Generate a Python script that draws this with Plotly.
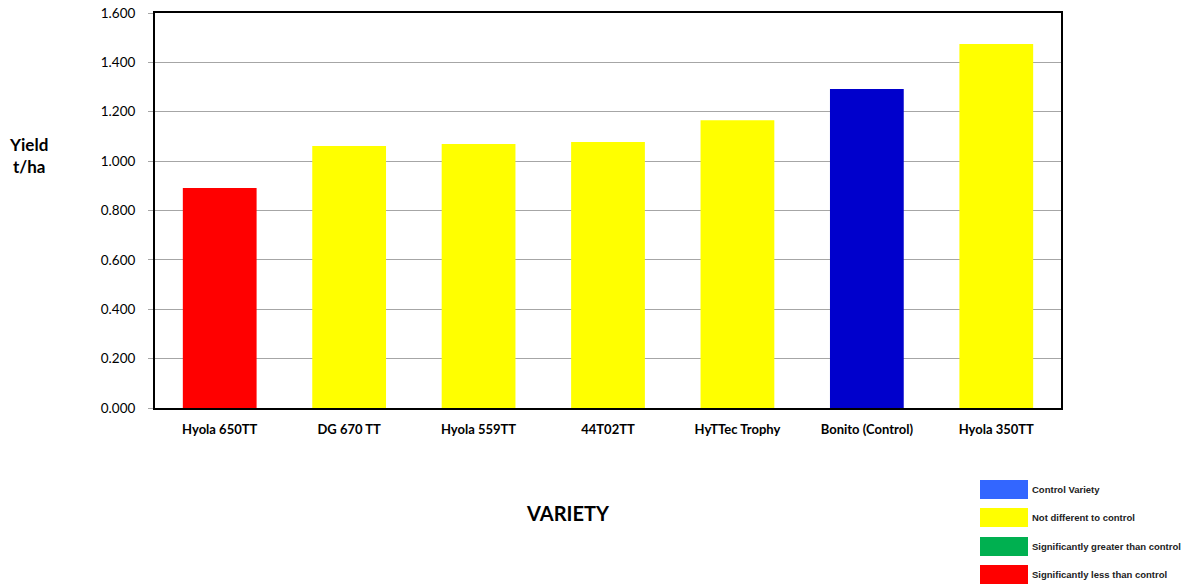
import plotly.graph_objects as go

varieties = ["Hyola 650TT", "DG 670 TT", "Hyola 559TT", "44T02TT", "HyTTec Trophy", "Bonito (Control)", "Hyola 350TT"]
yields = [0.891, 1.061, 1.069, 1.077, 1.166, 1.292, 1.474]
bar_colors = ["#FF0000", "#FFFF00", "#FFFF00", "#FFFF00", "#FFFF00", "#0000CC", "#FFFF00"]
y_ticks = [0.0, 0.2, 0.4, 0.6, 0.8, 1.0, 1.2, 1.4, 1.6]
legend_labels = ["Control Variety", "Not different to control", "Significantly greater than control", "Significantly less than control"]
legend_colors = ["#3366FF", "#FFFF00", "#00B050", "#FF0000"]

W, H = 1188, 585
L, R, T, B = 155, 1061, 13, 408


def px(x):
    return (x - L) / (R - L)


def py(y):
    return (B - y) / (B - T)


fig = go.Figure()
fig.add_trace(go.Bar(x=varieties, y=yields, marker=dict(color=bar_colors, line=dict(width=0)),
                     width=0.57, showlegend=False))

fig.update_layout(
    width=W, height=H,
    margin=dict(l=L, r=W - R, t=T, b=H - B, pad=0),
    plot_bgcolor="white", paper_bgcolor="white",
    font=dict(family="Lato, Open Sans, sans-serif", color="black"),
    xaxis=dict(showline=True, linecolor="black", linewidth=2, mirror=True,
               tickfont=dict(size=13, family="Lato", color="black"), ticks="",
               ticklabelstandoff=8, automargin=False),
    yaxis=dict(range=[0, 1.6], tickvals=y_ticks, ticktext=[f"{v:.3f}" for v in y_ticks],
               showline=True, linecolor="black", linewidth=2, mirror=True,
               showgrid=True, gridcolor="#A6A6A6", gridwidth=1,
               ticks="outside", ticklen=5, tickcolor="#A6A6A6",
               ticklabelstandoff=10, automargin=False,
               tickfont=dict(size=13.5, family="Lato", color="black"), zeroline=False),
)

fig.update_xaxes(tickvals=varieties, ticktext=[f"<b>{v}</b>" for v in varieties])

fig.add_annotation(text="<b>Yield<br>t/ha</b>", x=px(28), y=py(155),
                   xref="paper", yref="paper", showarrow=False, font=dict(size=17, family="Lato"),
                   xanchor="center", yanchor="middle")
fig.add_annotation(text="<b>VARIETY</b>", x=px(568), y=py(513),
                   xref="paper", yref="paper", showarrow=False, font=dict(size=20, family="Lato"),
                   xanchor="center", yanchor="middle")

box_tops = [480, 508, 537, 565]
for lab, col, top in zip(legend_labels, legend_colors, box_tops):
    fig.add_shape(type="rect", xref="paper", yref="paper",
                  x0=px(980), x1=px(1028), y0=py(top), y1=py(top + 19),
                  fillcolor=col, line=dict(width=0))
    fig.add_annotation(text=f"<b>{lab}</b>", xref="paper", yref="paper",
                       x=px(1030), y=py(top + 9),
                       showarrow=False, xanchor="left", yanchor="middle",
                       font=dict(size=9.5, family="Liberation Sans", color="#222"))

fig.write_html("out.html", config={"displayModeBar": False},
               post_script="document.body.style.margin='0';document.body.style.overflow='hidden';")
